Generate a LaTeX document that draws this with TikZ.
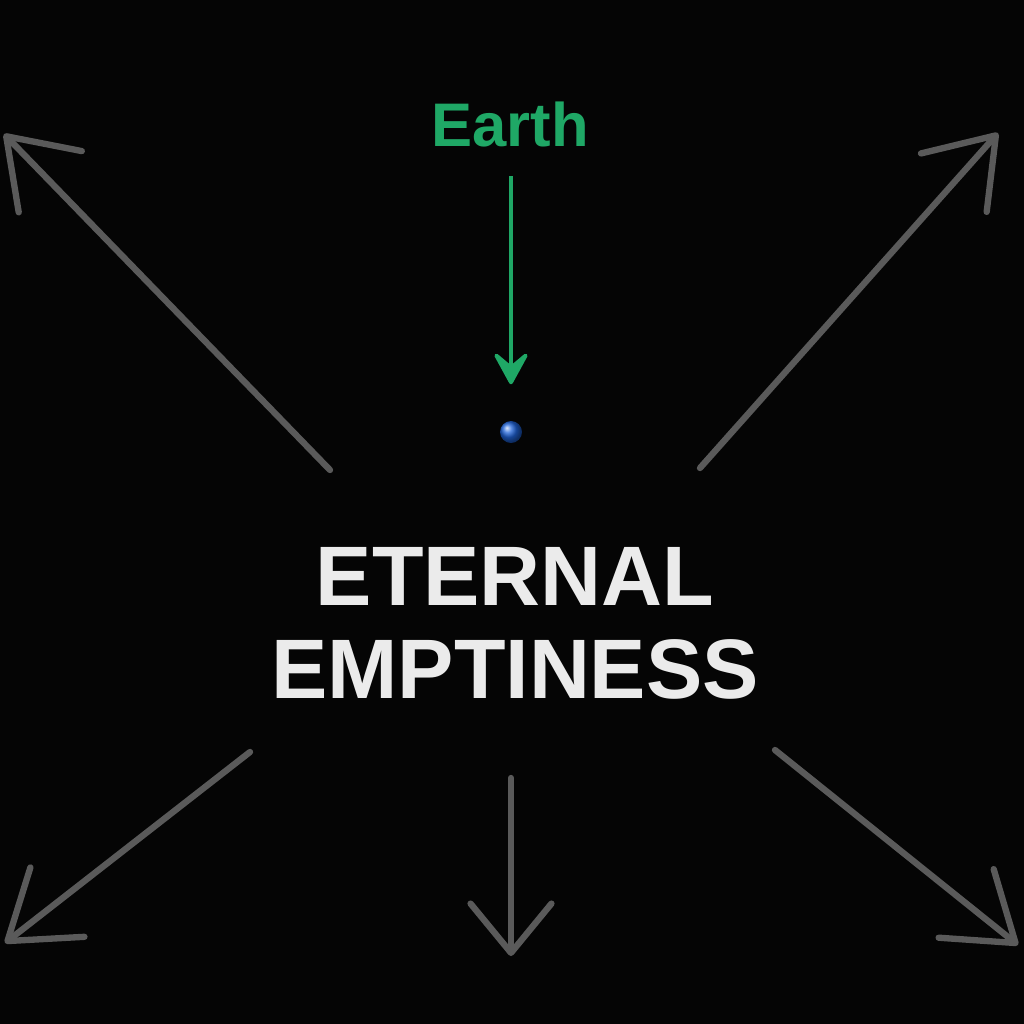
\documentclass[tikz,border=0pt]{standalone}
\usepackage{fontspec}
\setmainfont{Liberation Sans}
\usetikzlibrary{arrows.meta, positioning}
\definecolor{space}{HTML}{050505}
\definecolor{raygray}{HTML}{5A5A5A}
\definecolor{earthgreen}{HTML}{1FA866}
\definecolor{earthblue}{HTML}{1F63D8}
\definecolor{titlewhite}{HTML}{EBEBEB}
\tikzstyle{ray}=[-{Straight Barb[length=18pt,width=25pt,round]},line width=1.8pt,line cap=round,color=raygray]
\tikzstyle{pointer}=[-{Stealth[length=11pt,width=12pt,inset=5pt,round]},line width=1.1pt,color=earthgreen]
\tikzstyle{title}=[inner sep=0pt,anchor=base,text=titlewhite,font=\fontsize{24}{28}\selectfont\bfseries]

\begin{document}
\begin{tikzpicture}[x=0.01cm,y=-0.01cm]
  \fill[space] (0,0) rectangle (1024,1024);
  % earth and its label
  \node[inner sep=0pt,anchor=base,text=earthgreen,font=\fontsize{17.5}{20}\selectfont\bfseries] (earth) at (510,146) {Earth};
  \node[circle,minimum size=0.22cm,inner sep=0pt,ball color=earthblue] (planet) at (511,432) {};
  \draw[pointer,shorten <=0.29cm,shorten >=0.36cm] (earth.south -| planet) -- (planet);
  % title
  \node[title] (eternal) at (515,605) {ETERNAL};
  \node[title] (emptiness) at (515,698) {EMPTINESS};
  % rays going outwards
  \coordinate (nw) at (330,470);  \coordinate (nw tip) at (4,134);
  \coordinate (ne) at (700,468);  \coordinate (ne tip) at (998,133);
  \coordinate (sw) at (250,752);  \coordinate (sw tip) at (5,943);
  \coordinate (s) at (511,778);   \coordinate (s tip) at (511,956);
  \coordinate (se) at (775,750);  \coordinate (se tip) at (1018,945);
  \draw[ray] (nw) -- (nw tip);
  \draw[ray] (ne) -- (ne tip);
  \draw[ray] (sw) -- (sw tip);
  \draw[ray,-{Straight Barb[length=14pt,width=23pt,round]}] (s) -- (s tip);
  \draw[ray] (se) -- (se tip);
\end{tikzpicture}
\end{document}
